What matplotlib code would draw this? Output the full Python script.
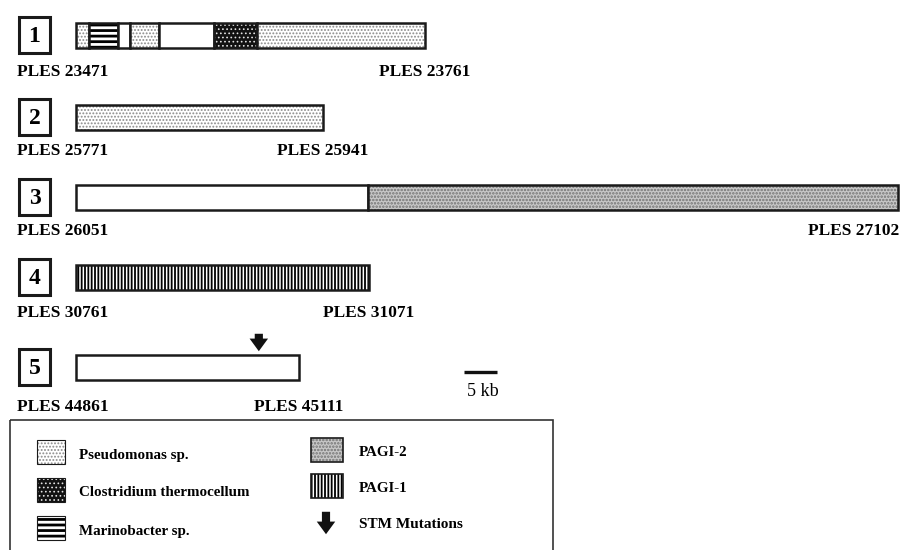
import matplotlib.pyplot as plt
from matplotlib.patches import Rectangle, FancyArrowPatch

W, H = 907, 550
PX_PER_KB = 6.6
X0 = 76

region_ids = ["1", "2", "3", "4", "5"]
start_genes = ["PLES 23471", "PLES 25771", "PLES 26051", "PLES 30761", "PLES 44861"]
end_genes = ["PLES 23761", "PLES 25941", "PLES 27102", "PLES 31071", "PLES 45111"]

# segment lengths (kb) along each island and where each segment comes from
region_segments = [
    [2.0, 4.4, 1.8, 4.4, 8.3, 6.5, 25.5],
    [37.4],
    [44.2, 80.3],
    [44.4],
    [33.8],
]
region_sources = [
    ["pseudomonas", "marinobacter", "none", "pseudomonas", "none", "clostridium", "pseudomonas"],
    ["pseudomonas"],
    ["none", "pagi2"],
    ["pagi1"],
    ["none"],
]
stm_region = 4  # index into the lists above
stm_position_kb = 27.7
scale_bar_kb = 5

# layout, in pixel rows
bar_tops = [23, 105, 185, 265, 355]
bar_height = 25
label_rows = [72, 151, 231, 313, 407]

STYLES = {
    "none": dict(fc="white", hatch=None, hc="black", hlw=0.5),
    "pseudomonas": dict(fc="white", hatch=".....", hc="#8a8a8a", hlw=0.9),
    "clostridium": dict(fc="#111111", hatch="....", hc="#e0e0e0", hlw=0.7),
    "marinobacter": dict(fc="white", hatch="---", hc="black", hlw=2.0),
    "pagi1": dict(fc="white", hatch="|||||", hc="black", hlw=1.3),
    "pagi2": dict(fc="#c8c8c8", hatch=".....", hc="#737373", hlw=1.2),
}

SERIF = "Liberation Serif"
LABEL_SIZE = 12.5


def patch(ax, x, y, w, h, source, outline=1.8):
    st = STYLES[source]
    fill = Rectangle((x, y), w, h, facecolor=st["fc"], edgecolor=st["hc"],
                     hatch=st["hatch"], linewidth=0)
    if hasattr(fill, "set_hatch_linewidth"):
        fill.set_hatch_linewidth(st["hlw"])
    ax.add_patch(fill)
    ax.add_patch(Rectangle((x, y), w, h, facecolor="none", edgecolor="#1a1a1a",
                           linewidth=outline))


fig = plt.figure(figsize=(W / 100, H / 100), dpi=100)
# layout axes in pixels
lay = fig.add_axes([0, 0, 1, 1])
lay.set_xlim(0, W)
lay.set_ylim(H, 0)
lay.axis("off")
# map axes: x in kb from the island start, y in pixels
gmap = fig.add_axes([0, 0, 1, 1], sharey=lay)
gmap.set_xlim(-X0 / PX_PER_KB, (W - X0) / PX_PER_KB)
gmap.axis("off")
gmap.patch.set_alpha(0)

for i, rid in enumerate(region_ids):
    top = bar_tops[i]
    # numbered box
    lay.add_patch(Rectangle((19, top - 6), 31, 36, facecolor="white",
                            edgecolor="#1a1a1a", linewidth=2.2))
    lay.text(34.5, top + 13, rid, fontsize=17, fontweight="bold", family=SERIF,
             ha="center", va="center")

    pos = 0.0
    for length, src in zip(region_segments[i], region_sources[i]):
        patch(gmap, pos, top, length, bar_height, src)
        pos += length

    lay.text(17, label_rows[i], start_genes[i], fontsize=LABEL_SIZE, fontweight="bold",
             family=SERIF, ha="left", va="center")
    end_px = X0 + pos * PX_PER_KB
    if end_px > W - 60:
        gmap.text(pos + 0.3, label_rows[i], end_genes[i], fontsize=LABEL_SIZE,
                  fontweight="bold", family=SERIF, ha="right", va="center")
    else:
        gmap.text(pos, label_rows[i], end_genes[i], fontsize=LABEL_SIZE,
                  fontweight="bold", family=SERIF, ha="center", va="center")

# STM mutation arrow
arrow_style = "simple,head_length=0.65,head_width=0.95,tail_width=0.42"
top5 = bar_tops[stm_region]
gmap.add_patch(FancyArrowPatch((stm_position_kb, top5 - 24), (stm_position_kb, top5 - 1),
                               arrowstyle=arrow_style, mutation_scale=14,
                               color="#111111", linewidth=0))

# scale bar
sb_x = (464 - X0) / PX_PER_KB
gmap.plot([sb_x, sb_x + scale_bar_kb], [372, 372], color="#111111", linewidth=2.4,
          solid_capstyle="butt")
gmap.text(sb_x + scale_bar_kb / 2 + 0.3, 391, f"{scale_bar_kb} kb", fontsize=13,
          family=SERIF, ha="center", va="center")

# legend
lay.add_patch(Rectangle((10, 420), 543, 140, facecolor="none", edgecolor="#333333",
                        linewidth=1.2, clip_on=False))
legend_left = [("pseudomonas", "Pseudomonas sp.", 452),
               ("clostridium", "Clostridium thermocellum", 490),
               ("marinobacter", "Marinobacter sp.", 528)]
for src, name, yc in legend_left:
    patch(lay, 37, yc - 12, 28, 24, src, outline=0.8)
    lay.text(79, yc + 3, name, fontsize=10.8, fontweight="bold", family=SERIF,
             ha="left", va="center")

legend_right = [("pagi2", "PAGI-2", 450), ("pagi1", "PAGI-1", 486)]
for src, name, yc in legend_right:
    patch(lay, 311, yc - 12, 32, 24, src, outline=1.2)
    lay.text(359, yc + 2, name, fontsize=10.8, fontweight="bold", family=SERIF,
             ha="left", va="center")
lay.add_patch(FancyArrowPatch((326, 509), (326, 537), arrowstyle=arrow_style,
                              mutation_scale=14, color="#111111", linewidth=0))
lay.text(359, 525, "STM Mutations", fontsize=11, fontweight="bold", family=SERIF,
         ha="left", va="center")

fig.savefig("out.png", dpi=100, facecolor="white")
